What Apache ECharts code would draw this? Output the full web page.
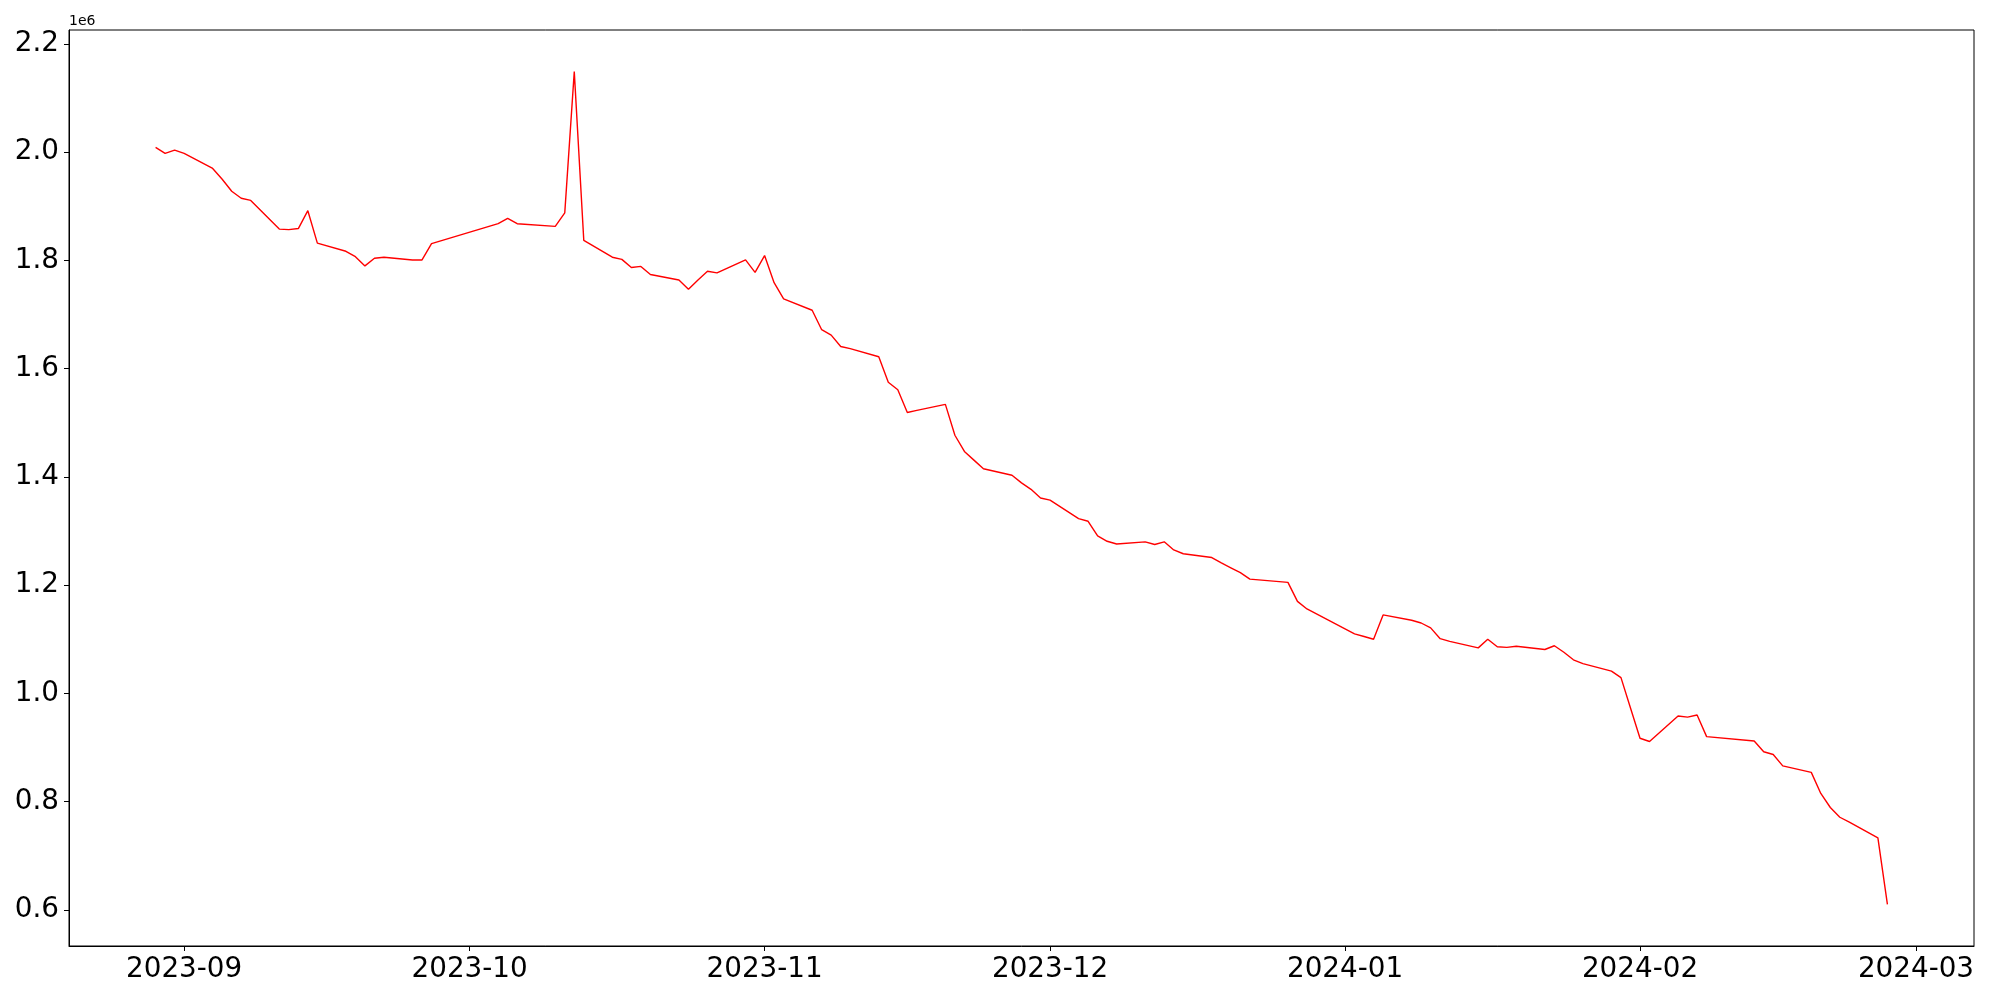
<!DOCTYPE html>
<html>
<head>
<meta charset="utf-8">
<script src="https://cdn.jsdelivr.net/npm/echarts@6/dist/echarts.min.js"></script>
<style>
html,body{margin:0;padding:0;background:#fff;}
#chart{width:2000px;height:1000px;}
</style>
</head>
<body>
<div id="chart"></div>
<script>
const dates = [
 '2023-08-29','2023-08-30','2023-08-31','2023-09-01',
 '2023-09-04','2023-09-05','2023-09-06','2023-09-07','2023-09-08',
 '2023-09-11','2023-09-12','2023-09-13','2023-09-14','2023-09-15',
 '2023-09-18','2023-09-19','2023-09-20','2023-09-21','2023-09-22',
 '2023-09-25','2023-09-26','2023-09-27',
 '2023-10-04','2023-10-05','2023-10-06',
 '2023-10-10','2023-10-11','2023-10-12','2023-10-13',
 '2023-10-16','2023-10-17','2023-10-18','2023-10-19','2023-10-20',
 '2023-10-23','2023-10-24','2023-10-25','2023-10-26','2023-10-27',
 '2023-10-30','2023-10-31','2023-11-01','2023-11-02','2023-11-03',
 '2023-11-06','2023-11-07','2023-11-08','2023-11-09','2023-11-10',
 '2023-11-13','2023-11-14','2023-11-15','2023-11-16','2023-11-17',
 '2023-11-20','2023-11-21','2023-11-22','2023-11-23','2023-11-24',
 '2023-11-27','2023-11-28','2023-11-29','2023-11-30','2023-12-01',
 '2023-12-04','2023-12-05','2023-12-06','2023-12-07','2023-12-08',
 '2023-12-11','2023-12-12','2023-12-13','2023-12-14','2023-12-15',
 '2023-12-18','2023-12-19','2023-12-20','2023-12-21','2023-12-22',
 '2023-12-26','2023-12-27','2023-12-28',
 '2024-01-02','2024-01-03','2024-01-04','2024-01-05',
 '2024-01-08','2024-01-09','2024-01-10','2024-01-11','2024-01-12',
 '2024-01-15','2024-01-16','2024-01-17','2024-01-18','2024-01-19',
 '2024-01-22','2024-01-23','2024-01-24','2024-01-25','2024-01-26',
 '2024-01-29','2024-01-30','2024-01-31','2024-02-01','2024-02-02',
 '2024-02-05','2024-02-06','2024-02-07','2024-02-08',
 '2024-02-13','2024-02-14','2024-02-15','2024-02-16',
 '2024-02-19','2024-02-20','2024-02-21','2024-02-22','2024-02-23',
 '2024-02-26','2024-02-27'
];
const values = [
 2009000,1998000,2004000,1998000,
 1970000,1950000,1928000,1915000,1911000,
 1858000,1857000,1859000,1892000,1832000,
 1817000,1807000,1790000,1804000,1806000,
 1801000,1801000,1831000,
 1868000,1878000,1868000,
 1863000,1888000,2149000,1837000,
 1806000,1802000,1787000,1789000,1774000,
 1764000,1747000,1764000,1780000,1777000,
 1801000,1778000,1809000,1759000,1729000,
 1708000,1672000,1662000,1641000,1637000,
 1622000,1575000,1561000,1519000,1523000,
 1534000,1477000,1447000,1431000,1415000,
 1403000,1389000,1377000,1361000,1357000,
 1323000,1318000,1291000,1281000,1276000,
 1280000,1275000,1280000,1265000,1258000,
 1251000,1241000,1232000,1223000,1211000,
 1205000,1170000,1156000,
 1110000,1105000,1100000,1145000,
 1135000,1130000,1121000,1101000,1096000,
 1084000,1100000,1086000,1085000,1087000,
 1081000,1088000,1076000,1062000,1055000,
 1041000,1029000,973000,917000,911000,
 958000,956000,960000,920000,
 912000,892000,887000,866000,
 854000,815000,789000,771000,762000,
 733000,610000
];
const xTickLabels = ['2023-09','2023-10','2023-11','2023-12','2024-01','2024-02','2024-03'];
const yTicks = [600000,800000,1000000,1200000,1400000,1600000,1800000,2000000,2200000];
const offsetText = '1e6';

function parseUTC(s){
  const p = s.split('-').map(Number);
  return Date.UTC(p[0], p[1]-1, p[2] || 1);
}
const seriesData = dates.map((d,i)=>[parseUTC(d), values[i]]);
const xTicks = xTickLabels.map(parseUTC);
const FONT = 'DejaVu Sans';

function fmtMonth(v){
  const d = new Date(v);
  const m = d.getUTCMonth()+1;
  return d.getUTCFullYear()+'-'+(m<10?'0':'')+m;
}

const chart = echarts.init(document.getElementById('chart'), null, {renderer:'canvas'});
chart.setOption({
  animation:false,
  backgroundColor:'#ffffff',
  grid:{left:69, right:26, top:30, bottom:54, show:true, borderColor:'#000', borderWidth:1, backgroundColor:'transparent'},
  xAxis:{
    type:'value',
    scale:true,
    min:function(v){return v.min - 0.05*(v.max-v.min);},
    max:function(v){return v.max + 0.05*(v.max-v.min);},
    axisLine:{show:true, lineStyle:{color:'#000', width:1}},
    axisTick:{show:true, inside:false, length:5, lineStyle:{color:'#000', width:1}, customValues:xTicks},
    axisLabel:{show:true, margin:10, color:'#000', fontFamily:FONT, fontSize:27.8, customValues:xTicks,
      formatter:fmtMonth},
    splitLine:{show:false}
  },
  yAxis:{
    type:'value',
    scale:true,
    min:function(v){return v.min - 0.05*(v.max-v.min);},
    max:function(v){return v.max + 0.05*(v.max-v.min);},
    axisLine:{show:true, lineStyle:{color:'#000', width:1}},
    axisTick:{show:true, inside:false, length:5, lineStyle:{color:'#000', width:1}, customValues:yTicks},
    axisLabel:{show:true, margin:10, color:'#000', fontFamily:FONT, fontSize:27.8, customValues:yTicks,
      formatter:function(v){return (v/1e6).toFixed(1);}},
    splitLine:{show:false}
  },
  graphic:[{type:'text', left:69, top:14, style:{text:offsetText, font:'14px "DejaVu Sans"', fill:'#000'}}],
  series:[{
    type:'line',
    data:seriesData,
    showSymbol:false,
    symbol:'none',
    lineStyle:{color:'#ff0000', width:1.4},
    itemStyle:{color:'#ff0000'}
  }]
});
</script>
</body>
</html>
